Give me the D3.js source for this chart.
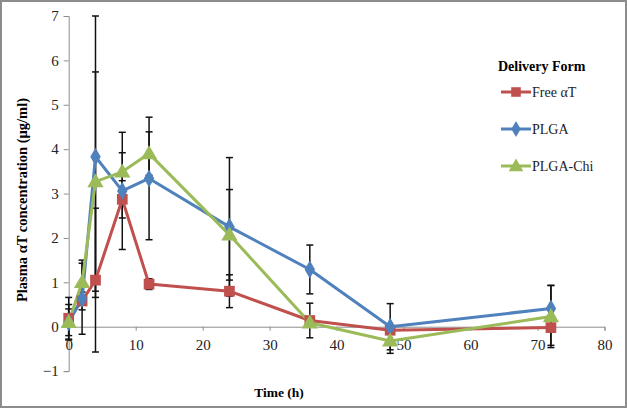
<!DOCTYPE html>
<html><head><meta charset="utf-8">
<script src="https://cdn.jsdelivr.net/npm/d3@7"></script>
<style>body{margin:0;background:#fff}svg{display:block}</style>
</head><body>
<svg id="c" width="627" height="408"></svg>
<script>
const times = [0, 2, 4, 8, 12, 24, 36, 48, 72];
const freeMean = [0.19, 0.58, 1.05, 2.87, 0.96, 0.80, 0.14, -0.08, -0.02];
const freeErr  = [0.47, 0.20, 1.62, 0.42, 0.12, 0.37, 0.39, 0.05, 0.40];
const plgaMean = [0.10, 0.63, 3.83, 3.06, 3.34, 2.25, 1.29, 0.00, 0.41];
const plgaErr  = [0.40, 0.80, 3.17, 1.32, 1.38, 1.56, 0.55, 0.52, 0.52];
const chiMean  = [0.10, 1.00, 3.27, 3.49, 3.90, 2.07, 0.09, -0.32, 0.23];
const chiErr   = [0.30, 0.50, 2.47, 0.43, 0.49, 1.02, 0.10, 0.28, 0.70];
const seriesNames = ["Free αT", "PLGA", "PLGA-Chi"];
const xTicks = [0, 10, 20, 30, 40, 50, 60, 70, 80];
const yTicks = [-1, 0, 1, 2, 3, 4, 5, 6, 7];

const colors = ["#C0504D", "#4F81BD", "#9BBB59"];
const symbols = [d3.symbolSquare, d3.symbolDiamond, d3.symbolTriangle];
const symSizes = [115, 95, 115];
const series = [
  {name: seriesNames[0], mean: freeMean, err: freeErr},
  {name: seriesNames[1], mean: plgaMean, err: plgaErr},
  {name: seriesNames[2], mean: chiMean, err: chiErr}
];

const svg = d3.select("#c");
const font = "'Liberation Serif', 'Times New Roman', serif";
svg.append("rect").attr("x", 1).attr("y", 1).attr("width", 625).attr("height", 406)
  .attr("fill", "#fff").attr("stroke", "#8c8c8c").attr("stroke-width", 2);

const x = d3.scaleLinear().domain([0, 80]).range([68.7, 604.5]);
const y = d3.scaleLinear().domain([-1, 7]).range([371.1, 16]);

// y axis
const yAx = svg.append("g").attr("transform", `translate(${x(0)},0)`)
  .call(d3.axisLeft(y).tickValues(yTicks).tickSize(5).tickFormat(d3.format("d")));
yAx.select(".domain").attr("stroke", "#8e8e8e");
yAx.selectAll(".tick line").attr("stroke", "#8e8e8e");
yAx.selectAll("text").attr("font-family", font).attr("font-size", 15).attr("fill", "#222").attr("x", -10);

// x axis at y=0
const xAx = svg.append("g").attr("transform", `translate(0,${y(0)})`)
  .call(d3.axisBottom(x).tickValues(xTicks).tickSize(4).tickFormat(d3.format("d")));
xAx.select(".domain").attr("stroke", "#8e8e8e");
xAx.selectAll(".tick line").attr("stroke", "#8e8e8e");
xAx.selectAll("text").attr("font-family", font).attr("font-size", 15).attr("fill", "#222").attr("y", 13);

// axis titles
svg.append("text").attr("x", 279).attr("y", 397).attr("text-anchor", "middle")
  .attr("font-family", font).attr("font-size", 13.5).attr("font-weight", "bold").text("Time (h)");
svg.append("text").attr("transform", "translate(27,200) rotate(-90)").attr("text-anchor", "middle")
  .attr("font-family", font).attr("font-size", 14.5).attr("font-weight", "bold")
  .text("Plasma αT concentration (μg/ml)");

// error bars
const eg = svg.append("g");
series.forEach(s => {
  times.forEach((t, i) => {
    const cx = x(t), top = y(s.mean[i] + s.err[i]), bot = y(s.mean[i] - s.err[i]);
    eg.append("line").attr("x1", cx).attr("x2", cx).attr("y1", top).attr("y2", bot)
      .attr("stroke", "#111").attr("stroke-width", 1.5);
    [top, bot].forEach(yy => eg.append("line").attr("x1", cx - 3.5).attr("x2", cx + 3.5)
      .attr("y1", yy).attr("y2", yy).attr("stroke", "#111").attr("stroke-width", 1.5));
  });
});

// lines and markers
const line = d3.line().x((d, i) => x(times[i])).y(d => y(d));
series.forEach((s, k) => {
  svg.append("path").datum(s.mean).attr("d", line).attr("fill", "none")
    .attr("stroke", colors[k]).attr("stroke-width", 3).attr("stroke-linejoin", "round");
});
series.forEach((s, k) => {
  svg.append("g").selectAll("path").data(s.mean).join("path")
    .attr("transform", (d, i) => `translate(${x(times[i])},${y(d) + (k === 2 ? 1 : 0)})`)
    .attr("d", d3.symbol().type(symbols[k]).size(symSizes[k]))
    .attr("fill", colors[k]);
});

// legend
svg.append("text").attr("x", 498).attr("y", 71).attr("font-family", font)
  .attr("font-size", 14).attr("font-weight", "bold").text("Delivery Form");
const ly = [92, 129, 166];
series.forEach((s, k) => {
  svg.append("line").attr("x1", 501).attr("x2", 531).attr("y1", ly[k]).attr("y2", ly[k])
    .attr("stroke", colors[k]).attr("stroke-width", 3);
  svg.append("path").attr("transform", `translate(516,${ly[k] + (k === 2 ? 1 : 0)})`)
    .attr("d", d3.symbol().type(symbols[k]).size(symSizes[k] * 0.8)).attr("fill", colors[k]);
  svg.append("text").attr("x", 532).attr("y", ly[k] + 5).attr("font-family", font)
    .attr("font-size", 14).attr("fill", "#222").text(s.name);
});
</script>
</body></html>
